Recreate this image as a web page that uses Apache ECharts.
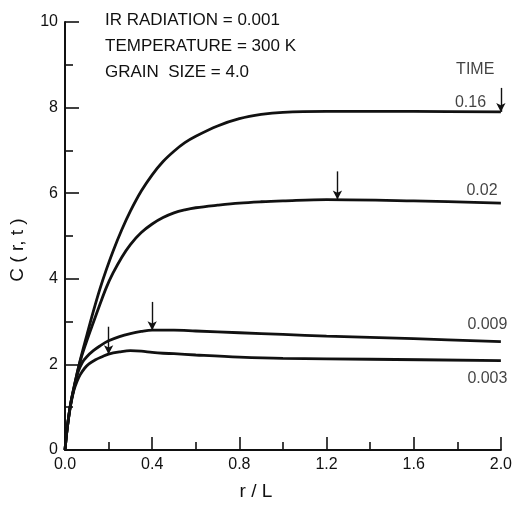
<!DOCTYPE html>
<html>
<head>
<meta charset="utf-8">
<script src="https://cdn.jsdelivr.net/npm/echarts@6/dist/echarts.min.js"></script>
<style>
html,body{margin:0;padding:0;background:#fff;}
#chart{width:515px;height:506px;}
</style>
</head>
<body>
<div id="chart"></div>
<script>
// ---- data ----
const timeLabels = ['0.16', '0.02', '0.009', '0.003'];
const curve016 = [[0,0],[0.01,0.5],[0.025,1.05],[0.045,1.55],[0.07,2.1],[0.1,2.68],[0.13,3.24],[0.16,3.76],[0.19,4.22],[0.22,4.64],[0.26,5.14],[0.3,5.58],[0.35,6.05],[0.4,6.43],[0.45,6.74],[0.5,6.98],[0.55,7.18],[0.6,7.33],[0.7,7.57],[0.8,7.74],[0.9,7.84],[1.0,7.89],[1.2,7.91],[1.6,7.91],[2.0,7.9]];
const curve002 = [[0,0],[0.01,0.5],[0.025,1.05],[0.045,1.55],[0.07,2.08],[0.1,2.55],[0.13,2.98],[0.16,3.4],[0.19,3.8],[0.22,4.13],[0.26,4.5],[0.3,4.8],[0.35,5.08],[0.4,5.28],[0.45,5.43],[0.5,5.54],[0.55,5.61],[0.6,5.66],[0.7,5.72],[0.8,5.77],[0.9,5.8],[1.0,5.82],[1.2,5.85],[1.6,5.82],[2.0,5.77]];
const curve0009 = [[0,0],[0.01,0.5],[0.025,1.05],[0.045,1.52],[0.06,1.82],[0.08,2.05],[0.1,2.18],[0.13,2.32],[0.16,2.43],[0.2,2.55],[0.25,2.65],[0.3,2.72],[0.35,2.77],[0.4,2.8],[0.5,2.8],[0.6,2.78],[0.8,2.74],[1.0,2.7],[1.2,2.66],[1.6,2.6],[2.0,2.53]];
const curve0003 = [[0,0],[0.01,0.5],[0.025,1.02],[0.04,1.38],[0.055,1.6],[0.07,1.76],[0.09,1.91],[0.11,2.01],[0.14,2.11],[0.17,2.18],[0.2,2.24],[0.25,2.29],[0.3,2.32],[0.35,2.31],[0.4,2.28],[0.45,2.26],[0.5,2.25],[0.6,2.22],[0.8,2.17],[1.0,2.14],[1.4,2.12],[2.0,2.09]];
const arrowX = [2.0, 1.25, 0.4, 0.2];
const arrowTop = [8.46, 6.51, 3.46, 2.88];
const arrowTip = [7.9, 5.85, 2.8, 2.24];
const labelPos = [[1.932, 8.12], [1.985, 6.05], [2.03, 2.92], [2.03, 1.68]];
const timeHeaderPos = [1.97, 8.88];
const xTickLabels = ['0.0', '0.4', '0.8', '1.2', '1.6', '2.0'];
const yTickLabels = ['0', '2', '4', '6', '8', '10'];
const infoLines = ['IR RADIATION = 0.001', 'TEMPERATURE = 300 K', 'GRAIN  SIZE = 4.0'];

const curves = [curve016, curve002, curve0009, curve0003];
const FONT = 'Liberation Sans';

const chart = echarts.init(document.getElementById('chart'), null, {renderer: 'canvas'});

const series = curves.map((c, i) => ({
  type: 'line',
  data: c,
  smooth: 0.35,
  showSymbol: false,
  symbol: 'none',
  clip: false,
  lineStyle: {color: '#111', width: 2.8},
  silent: true,
  animation: false,
  markLine: {
    silent: true,
    animation: false,
    symbol: ['none', 'arrow'],
    symbolSize: [7, 9],
    label: {show: false},
    lineStyle: {color: '#111', width: 1.4, type: 'solid'},
    data: [[{coord: [arrowX[i], arrowTop[i]]}, {coord: [arrowX[i], arrowTip[i]]}]]
  }
}));

series.push({
  type: 'scatter',
  symbolSize: 0,
  silent: true,
  animation: false,
  clip: false,
  data: labelPos.map((p, i) => ({value: p, name: timeLabels[i]})).concat([{value: timeHeaderPos, name: 'TIME'}]),
  label: {
    show: true,
    position: 'left',
    distance: 0,
    formatter: p => p.name,
    color: '#111',
    fontFamily: FONT,
    fontSize: 16
  }
});

const option = {
  animation: false,
  backgroundColor: '#fff',
  grid: {left: 64, right: 10, top: 22, bottom: 54.5, containLabel: false},
  xAxis: {
    type: 'value',
    min: 0, max: 2.0, interval: 0.4,
    name: 'r / L',
    nameLocation: 'middle',
    nameGap: 32,
    nameTextStyle: {fontFamily: FONT, fontSize: 19, color: '#111', padding: [0, 54, 0, 0]},
    axisLine: {show: true, onZero: false, lineStyle: {color: '#111', width: 2}},
    axisTick: {show: true, inside: true, length: 13, lineStyle: {color: '#111', width: 1.6}},
    minorTick: {show: true, splitNumber: 2, length: 8, lineStyle: {color: '#111', width: 1.6}},
    axisLabel: {
      margin: 7, color: '#111', fontFamily: FONT, fontSize: 16,
      formatter: v => xTickLabels[Math.round(v / 0.4)]
    },
    splitLine: {show: false},
    minorSplitLine: {show: false}
  },
  yAxis: {
    type: 'value',
    min: 0, max: 10, interval: 2,
    name: 'C ( r, t )',
    nameLocation: 'middle',
    nameGap: 38,
    nameRotate: 90,
    nameTextStyle: {fontFamily: FONT, fontSize: 19, color: '#111', padding: [0, 28, 0, 0]},
    axisLine: {show: true, onZero: false, lineStyle: {color: '#111', width: 2}},
    axisTick: {show: true, inside: true, length: 14, lineStyle: {color: '#111', width: 1.6}},
    minorTick: {show: true, splitNumber: 2, length: 8, lineStyle: {color: '#111', width: 1.6}},
    axisLabel: {
      margin: 7, color: '#111', fontFamily: FONT, fontSize: 16,
      formatter: v => yTickLabels[Math.round(v / 2)]
    },
    splitLine: {show: false},
    minorSplitLine: {show: false}
  },
  graphic: infoLines.map((t, i) => ({
    type: 'text',
    left: 105,
    top: 12 + i * 26,
    silent: true,
    style: {text: t, fill: '#111', font: '17px "' + FONT + '"'}
  })),
  series: series
};

chart.setOption(option);
</script>
</body>
</html>
